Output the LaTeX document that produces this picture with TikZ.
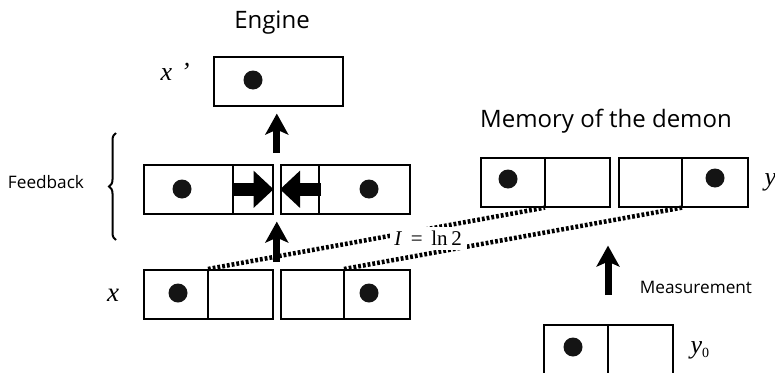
\documentclass[tikz,border=0pt]{standalone}
\usepackage{fontspec}
\setmainfont{Liberation Serif}
\newfontfamily\lblsans{Open Sans}
\usetikzlibrary{arrows.meta,decorations.pathreplacing,calc}
\begin{document}
\begin{tikzpicture}[x=1pt,y=-1pt,
  cell/.style={draw, line width=1.6pt, minimum width=129pt, minimum height=49pt, inner sep=0pt, anchor=north west},
  dotmark/.style={fill=black!92, circle, minimum size=19pt, inner sep=0pt},
  divline/.style={line width=1.6pt},
  uparrow/.style={line width=7pt, -{Stealth[length=21pt,width=23pt,inset=5pt]}},
  pusharrow/.style={line width=13pt, -{Triangle[length=20pt,width=36pt]}},
  infoline/.style={line width=4.5pt, dash pattern=on 2.8pt off 2pt},
  ttl/.style={font=\lblsans\fontsize{24}{27}\selectfont, anchor=base},
  sml/.style={font=\lblsans\fontsize{17.2}{20}\selectfont, anchor=base},
  var/.style={font=\fontsize{26}{28}\selectfont\itshape, anchor=base},
]
\useasboundingbox (0,0) rectangle (775,372);

% titles
\node[ttl] (engine) at (272,28) {Engine};
\node[ttl] (memory) at (606,127) {Memory of the demon};
\node[sml] (feedback) at (46,188) {Feedback};
\node[sml] (measure) at (696,293) {Measurement};

% engine box x'
\node[cell] (xp) at (213,56) {};
\node[dotmark] (xpdot) at (253,80) {};
\node[var] (xplabel) at (175,80) {x\,\,’};

% feedback boxes
\node[cell] (fbL) at (143,164) {};
\node[cell] (fbR) at (280,164) {};
\coordinate (fbLdiv) at ($(fbL.north west)+(90,0)$);
\coordinate (fbRdiv) at ($(fbR.north west)+(39,0)$);
\draw[divline] (fbLdiv) -- (fbLdiv |- fbL.south);
\draw[divline] (fbRdiv) -- (fbRdiv |- fbR.south);
\node[dotmark] (fbLdot) at (182,189) {};
\node[dotmark] (fbRdot) at (369,189) {};
\draw[pusharrow] ($(fbLdiv |- fbL.east)+(-1,0)$) -- (fbL.east);
\draw[pusharrow] ($(fbRdiv |- fbR.west)+(2,0)$) -- (fbR.west);

% brace
\coordinate (brb) at (116,240);
\coordinate (brt) at (116,133);
\draw[decorate, decoration={brace, amplitude=7pt}, line width=2pt] (brb) -- (brt);

% x boxes
\node[cell] (xL) at (143,269) {};
\node[cell] (xR) at (280,269) {};
\coordinate (xLdiv) at ($(xL.north west)+(65,0)$);
\coordinate (xRdiv) at ($(xR.north west)+(64,0)$);
\draw[divline] (xLdiv) -- (xLdiv |- xL.south);
\draw[divline] (xRdiv) -- (xRdiv |- xR.south);
\node[dotmark] (xLdot) at (178,293) {};
\node[dotmark] (xRdot) at (369,293) {};
\node[var, font=\fontsize{27}{29}\selectfont\itshape] (xlabel) at (113,301) {x};

% memory boxes
\node[cell] (mL) at (480,157) {};
\node[cell] (mR) at (618,157) {};
\coordinate (mLdiv) at ($(mL.north west)+(65,0)$);
\coordinate (mRdiv) at ($(mR.north west)+(64,0)$);
\draw[divline] (mLdiv) -- (mLdiv |- mL.south);
\draw[divline] (mRdiv) -- (mRdiv |- mR.south);
\node[dotmark] (mLdot) at (508,179) {};
\node[dotmark] (mRdot) at (715,178) {};
\node[var, anchor=base west] (ylabel) at (761,185) {y};

% y0 box
\node[cell] (y0) at (543,324) {};
\coordinate (y0div) at ($(y0.north west)+(65,0)$);
\draw[divline] (y0div) -- (y0div |- y0.south);
\node[dotmark] (y0dot) at (573,347) {};
\node[var, anchor=base west] (y0label) at (687,353) {y\raisebox{-4.5pt}{\upshape\fontsize{14}{15}\selectfont 0}};

% mutual information lines
\draw[infoline] (xLdiv) -- ($(mLdiv |- mL.south)$);
\draw[infoline] (xRdiv) -- ($(mRdiv |- mR.south)$);
\node[fill=white, minimum width=77pt, minimum height=23pt, inner sep=0pt,
      font=\fontsize{21}{23}\selectfont] (info) at (428,238) {\textit{I}\, =\, ln\,2};

% vertical arrows
\coordinate (fbtop) at ($(fbL.north east)!0.5!(fbR.north west)$);
\coordinate (xtop) at ($(xL.north east)!0.5!(xR.north west)$);
\draw[uparrow, shorten <=11pt, shorten >=7pt] (fbtop) -- (fbtop |- xp.south);
\draw[uparrow, shorten <=7pt, shorten >=7pt] (xtop) -- (xtop |- fbL.south);
\draw[uparrow, shorten <=29pt, shorten >=38pt] (y0div) -- (y0div |- mL.south);
\end{tikzpicture}
\end{document}
